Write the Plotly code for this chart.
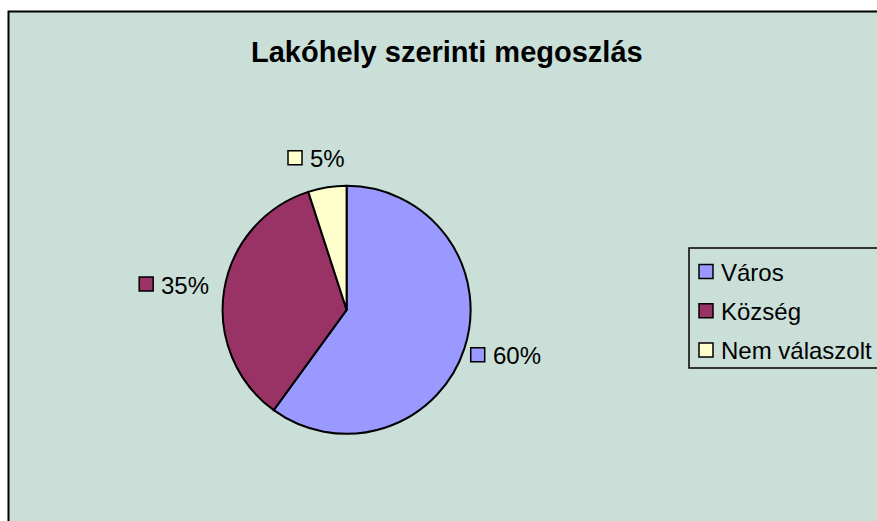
import math
import plotly.graph_objects as go

# ---- data ----
categories = ["Város", "Község", "Nem válaszolt"]
values = [60, 35, 5]
label_texts = ["60%", "35%", "5%"]
colors = ["#9999FF", "#993366", "#FFFFCC"]
title_text = "Lakóhely szerinti megoszlás"

# ---- layout geometry (pixels) ----
W, H = 877, 521
cx, cy, R = 346.6, 309.8, 124.0
BG = "#C9DFD8"
FONT = "Liberation Sans, Arial, sans-serif"
LABEL_FS = 24
SQ = 14
LAB_A, LAB_B = 171, 152   # label-centre ellipse radii


def px(x):
    return x / W


def py(y):
    return 1 - y / H


fig = go.Figure(
    go.Pie(
        labels=categories,
        values=values,
        marker=dict(colors=colors, line=dict(color="black", width=2)),
        sort=False,
        direction="clockwise",
        rotation=0,
        textinfo="none",
        hoverinfo="label+percent",
        showlegend=False,
        domain=dict(x=[px(cx - R), px(cx + R)], y=[py(cy + R), py(cy - R)]),
    )
)

shapes = []
annotations = []

# chart area background + border
shapes.append(dict(type="rect", xref="paper", yref="paper",
                   x0=px(8.5), x1=px(W + 30), y0=py(11.5), y1=py(H + 30),
                   line=dict(color="black", width=2), fillcolor=BG, layer="below"))

# title
annotations.append(dict(text=f"<b>{title_text}</b>", xref="paper", yref="paper",
                        x=px(447), y=py(52), xanchor="center", yanchor="middle",
                        showarrow=False, font=dict(family=FONT, size=29, color="black")))

# data labels positioned from the slice angles
char_w = {"%": 0.889}
total = sum(values)
cum = 0.0
for v, t, col in zip(values, label_texts, colors):
    mid = (cum + v / 2) / total * 2 * math.pi
    cum += v
    s, c = math.sin(mid), math.cos(mid)
    tw = sum(char_w.get(ch, 0.556) for ch in t) * LABEL_FS
    w = SQ + 7 + tw
    xc = cx + s * LAB_A - 4
    yc = cy - c * LAB_B - 3
    left = xc - w / 2
    shapes.append(dict(type="rect", xref="paper", yref="paper",
                       x0=px(left), x1=px(left + SQ), y0=py(yc - SQ / 2 + 1), y1=py(yc + SQ / 2 + 1),
                       line=dict(color="black", width=1.5), fillcolor=col))
    annotations.append(dict(text=t, xref="paper", yref="paper",
                            x=px(left + SQ + 6), y=py(yc + 2), xanchor="left", yanchor="middle",
                            showarrow=False, font=dict(family=FONT, size=LABEL_FS, color="black")))

# legend (manual)
LX0, LY0, LY1 = 689, 248, 368
shapes.append(dict(type="rect", xref="paper", yref="paper",
                   x0=px(LX0), x1=px(W + 30), y0=py(LY0), y1=py(LY1),
                   line=dict(color="black", width=1.5), fillcolor=BG))
for i, (cat, col) in enumerate(zip(categories, colors)):
    yc = LY0 + 23.5 + i * 39.2
    shapes.append(dict(type="rect", xref="paper", yref="paper",
                       x0=px(699), x1=px(699 + SQ), y0=py(yc - SQ / 2), y1=py(yc + SQ / 2),
                       line=dict(color="black", width=1.5), fillcolor=col))
    annotations.append(dict(text=cat, xref="paper", yref="paper",
                            x=px(719), y=py(yc + 1), xanchor="left", yanchor="middle",
                            showarrow=False, font=dict(family=FONT, size=LABEL_FS, color="black")))

fig.update_layout(
    width=W, height=H,
    margin=dict(l=0, r=0, t=0, b=0),
    paper_bgcolor="white",
    plot_bgcolor="white",
    shapes=shapes,
    annotations=annotations,
    showlegend=False,
)

fig.write_html("out.html", config={"displayModeBar": False},
               post_script="document.body.style.margin='0';document.body.style.overflow='hidden';")
